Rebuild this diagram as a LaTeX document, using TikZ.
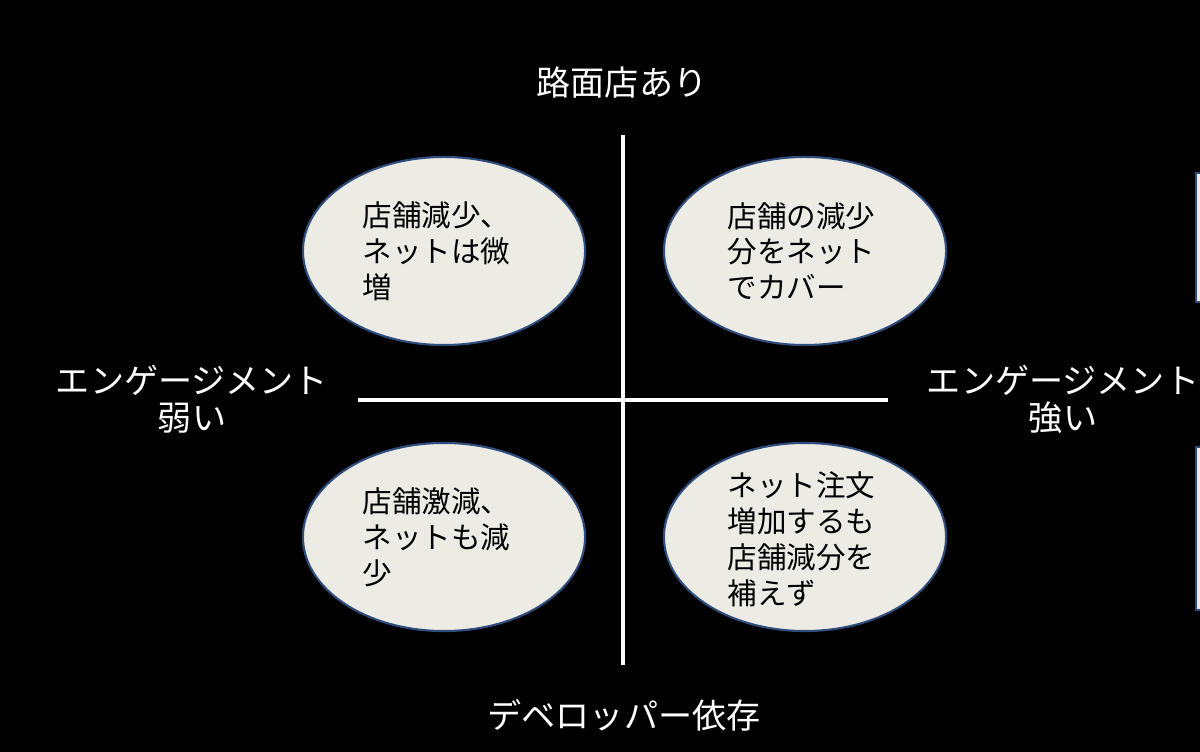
\documentclass[tikz,border=0pt]{standalone}
\usepackage{fontspec}
\setmainfont{Noto Sans CJK JP}
\usetikzlibrary{shapes.geometric}

\definecolor{bubblefill}{HTML}{EDECE4}
\definecolor{bubbleline}{HTML}{2E4C7C}

\tikzset{
  bubble/.style={ellipse, draw=bubbleline, fill=bubblefill, line width=0.6pt,
    minimum width=2.82cm, minimum height=1.88cm, inner sep=0pt},
  bubbletext/.style={anchor=west, align=left, inner sep=0pt, text=black,
    font=\fontsize{8.4}{10.2}\selectfont},
  axislabel/.style={text=white, align=center, inner sep=0pt,
    font=\fontsize{9.7}{10.5}\selectfont},
  axisline/.style={white, line width=1pt},
}

\begin{document}
\begin{tikzpicture}[x=0.01cm,y=-0.01cm]

    % black background, fixes the size
    \fill[black] (0,0) rectangle (1200,752);
    \useasboundingbox (0,0) rectangle (1200,752);
    \clip (0,0) rectangle (1200,752);

    % ends of the axes
    \coordinate (top) at (623,135);
    \coordinate (bottom) at (623,665);
    \coordinate (left) at (358,400);
    \coordinate (right) at (888,400);

    % draw axes
    \draw[axisline] (top) -- (bottom);
    \draw[axisline] (left) -- (right);

    % axis labels
    \node[axislabel] (north) at (622,83) {路面店あり};
    \node[axislabel] (south) at (624,715) {デベロッパー依存};
    \node[axislabel] (west) at (192,399) {エンゲージメント\\弱い};
    \node[axislabel] (east) at (1063,399) {エンゲージメント\\強い};

    % quadrants
    \node[bubble] (tl) at (444,251) {};
    \node[bubble] (tr) at (805,251) {};
    \node[bubble] (bl) at (444,537) {};
    \node[bubble] (br) at (805,537) {};

    \node[bubbletext] (tltext) at (362,251) {店舗減少、\\ネットは微\\増};
    \node[bubbletext] (trtext) at (727,251) {店舗の減少\\分をネット\\でカバー};
    \node[bubbletext] (bltext) at (362,537) {店舗激減、\\ネットも減\\少};
    \node[bubbletext] (brtext) at (727,539) {ネット注文\\増加するも\\店舗減分を\\補えず};

    % shapes cut off at the right edge
    \filldraw[fill=bubblefill, draw=bubbleline, line width=0.6pt] (1196,173) rectangle (1210,302);
    \filldraw[fill=bubblefill, draw=bubbleline, line width=0.6pt] (1196,447) rectangle (1210,610);

\end{tikzpicture}
\end{document}
